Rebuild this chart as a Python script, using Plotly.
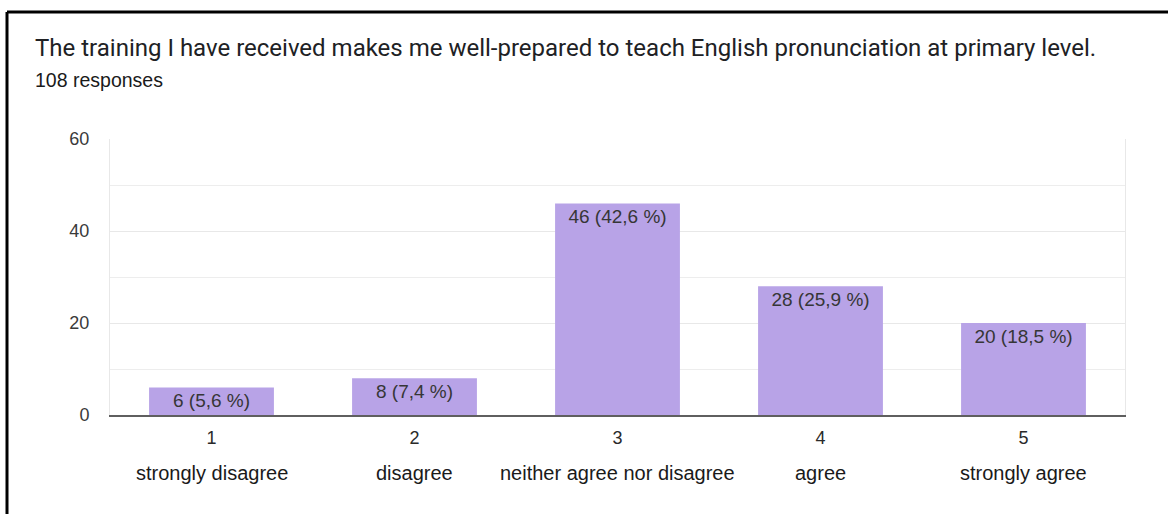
import plotly.graph_objects as go

# Survey results: Likert-scale answers and their response counts
scale_points = ["1", "2", "3", "4", "5"]
scale_names = ["strongly disagree", "disagree", "neither agree nor disagree", "agree", "strongly agree"]
counts = [6, 8, 46, 28, 20]
total_responses = 108
y_ticks = [0, 20, 40, 60]

question = "The training I have received makes me well-prepared to teach English pronunciation at primary level."

# Bar labels: count plus share of total, written with a decimal comma
bar_labels = [
    f"{c} ({c / total_responses * 100:.1f} %)".replace(".", ",") for c in counts
]

W, H = 1168, 514
L, R, T, B = 110, 43, 139, 99
plot_w = W - L - R
plot_h = H - T - B


def px_x(px):
    return (px - L) / plot_w


def px_y(py):
    return (H - B - py) / plot_h


SANS = "Liberation Sans, Arial, sans-serif"

fig = go.Figure(
    go.Bar(
        x=scale_points,
        y=counts,
        text=bar_labels,
        textposition="inside",
        insidetextanchor="end",
        textangle=0,
        constraintext="none",
        textfont=dict(family=SANS, size=19, color="#363636"),
        marker=dict(color="#b8a3e7", line=dict(width=0)),
        hoverinfo="x+y",
    )
)

# Descriptive names under the numeric scale points (category index positions)
annotations = [
    dict(
        x=i, y=px_y(473), xref="x", yref="paper",
        text=name, showarrow=False, xanchor="center", yanchor="middle",
        font=dict(family=SANS, size=20, color="#1a1a1a"),
    )
    for i, name in enumerate(scale_names)
]
annotations.append(
    dict(
        x=px_x(33), y=px_y(80), xref="paper", yref="paper",
        text=f"{total_responses} responses", showarrow=False,
        xanchor="left", yanchor="middle",
        font=dict(family=SANS, size=19.5, color="#1a1a1a"),
    )
)

fig.update_layout(
    width=W,
    height=H,
    margin=dict(l=L, r=R, t=T, b=B),
    paper_bgcolor="white",
    plot_bgcolor="white",
    showlegend=False,
    bargap=0.385,
    title=dict(
        text=question,
        xref="container", yref="container",
        x=35 / W, y=1 - 48 / H,
        xanchor="left", yanchor="middle",
        font=dict(family="Roboto, sans-serif", size=24, color="#202124"),
    ),
    annotations=annotations,
    shapes=[
        dict(type="line", xref="paper", yref="paper",
             x0=px_x(7), y0=px_y(12), x1=px_x(W + 5), y1=px_y(12),
             line=dict(color="black", width=3)),
        dict(type="line", xref="paper", yref="paper",
             x0=px_x(7), y0=px_y(12), x1=px_x(7), y1=px_y(H + 5),
             line=dict(color="black", width=3)),
    ],
)

fig.update_xaxes(
    type="category",
    showgrid=False,
    showline=True,
    linecolor="#5f5f5f",
    linewidth=2,
    ticks="",
    ticklabelstandoff=5,
    tickfont=dict(family=SANS, size=18, color="#2a2a2a"),
)

fig.update_yaxes(
    range=[0, 60],
    tickvals=y_ticks,
    showgrid=True,
    gridcolor="#e8e8e8",
    gridwidth=1,
    zeroline=False,
    showline=True,
    mirror=True,
    linecolor="#e8e8e8",
    linewidth=1,
    ticks="",
    ticklabelstandoff=16,
    tickfont=dict(family=SANS, size=18, color="#3a3a3a"),
    minor=dict(dtick=10, showgrid=True, gridcolor="#ededed", gridwidth=1),
)

fig.write_html("out.html")
